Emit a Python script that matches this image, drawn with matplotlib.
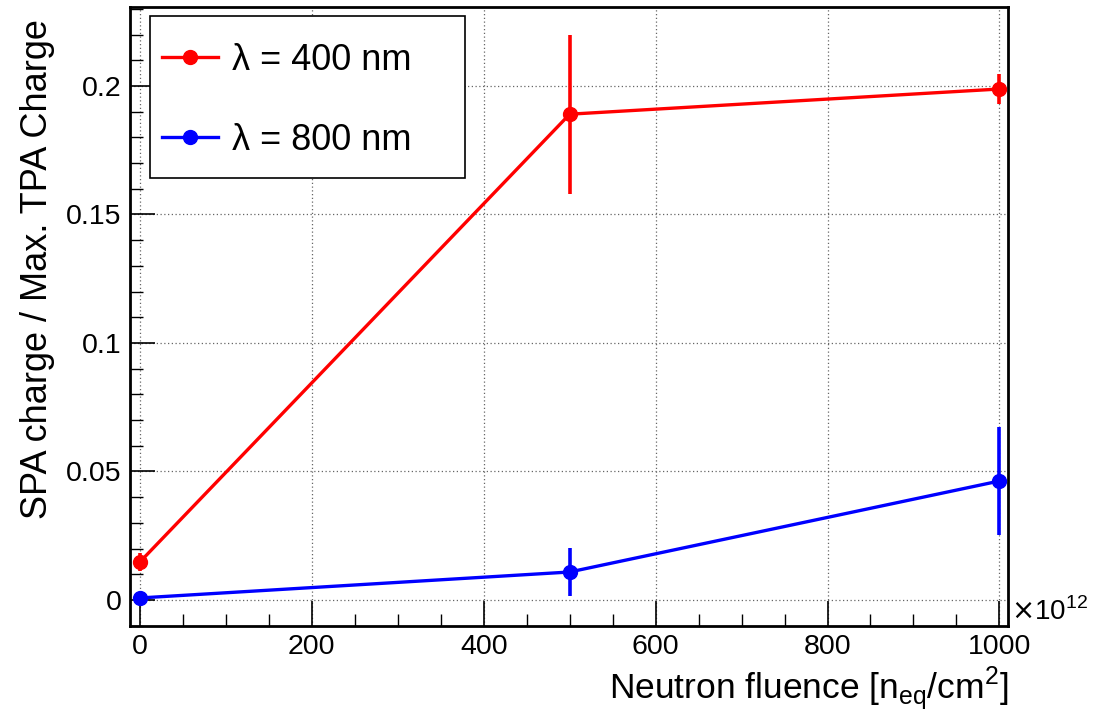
import matplotlib
matplotlib.use("Agg")
import matplotlib.pyplot as plt
from matplotlib.lines import Line2D
from matplotlib.patches import Rectangle
from matplotlib.ticker import MultipleLocator

# fluence in units of 1e12 n_eq/cm^2
fluence = [0, 500, 1000]

ratio_400 = [0.0148, 0.189, 0.1988]
err_400 = [0.0034, 0.031, 0.006]

ratio_800 = [0.0008, 0.0109, 0.0463]
err_800 = [0.0012, 0.0095, 0.021]

labels = ["λ = 400 nm", "λ = 800 nm"]
colors = ["#ff0000", "#0000ff"]

plt.rcParams["font.family"] = ["Liberation Sans", "DejaVu Sans"]

fig = plt.figure(figsize=(10.99, 7.15), dpi=100)
ax = fig.add_axes([0.1183, 0.1245, 0.7989, 0.8657])

handles = []
for y, e, c, lab in zip([ratio_400, ratio_800], [err_400, err_800], colors, labels):
    ax.errorbar(fluence, y, yerr=e, color=c, marker="o", ms=10, lw=2.4,
                elinewidth=2.6, capsize=0, zorder=3)
    handles.append(Line2D([], [], color=c, marker="o", ms=10, lw=2.4, label=lab))

ax.set_xlim(-11.5, 1010)
ax.set_ylim(-0.0101, 0.2307)

ax.xaxis.set_major_locator(MultipleLocator(200))
ax.xaxis.set_minor_locator(MultipleLocator(50))
ax.yaxis.set_major_locator(MultipleLocator(0.05))
ax.yaxis.set_minor_locator(MultipleLocator(0.01))
ax.set_yticks([0, 0.05, 0.1, 0.15, 0.2])
ax.set_yticklabels(["0", "0.05", "0.1", "0.15", "0.2"])

ax.tick_params(which="both", direction="in", top=False, right=False,
               labelsize=20.5, color="black")
ax.tick_params(which="major", length=18, width=1.2, pad=6)
ax.tick_params(which="minor", length=9, width=1.0)
for sp in ax.spines.values():
    sp.set_linewidth(2)

ax.grid(which="major", linestyle=(0, (1, 2)), color="#666666", lw=0.9)
ax.set_axisbelow(True)

ax.set_xlabel(r"Neutron fluence [n$_{\mathregular{eq}}$/cm$^{\mathregular{2}}$]",
              fontsize=25.5, loc="right", labelpad=3)
ax.set_ylabel("SPA charge / Max. TPA Charge", fontsize=26, y=0.98,
              ha="right", labelpad=8)
ax.text(1.003, 0.0, r"$\times$10$^{\mathregular{12}}$", transform=ax.transAxes,
        fontsize=20, ha="left", va="bottom")

# ROOT-style fixed legend box
ax.add_patch(Rectangle((0.0228, 0.7237), 0.3587, 0.2618, transform=ax.transAxes,
                       facecolor="white", edgecolor="black", lw=1.2, zorder=4))
leg = ax.legend(handles=handles, loc="upper left", bbox_to_anchor=(0.0364, 0.942),
                fontsize=26, frameon=False, handlelength=1.55, handletextpad=0.4,
                labelspacing=1.25, borderpad=0, borderaxespad=0)
leg.set_zorder(5)

fig.savefig("out.png", dpi=100)
